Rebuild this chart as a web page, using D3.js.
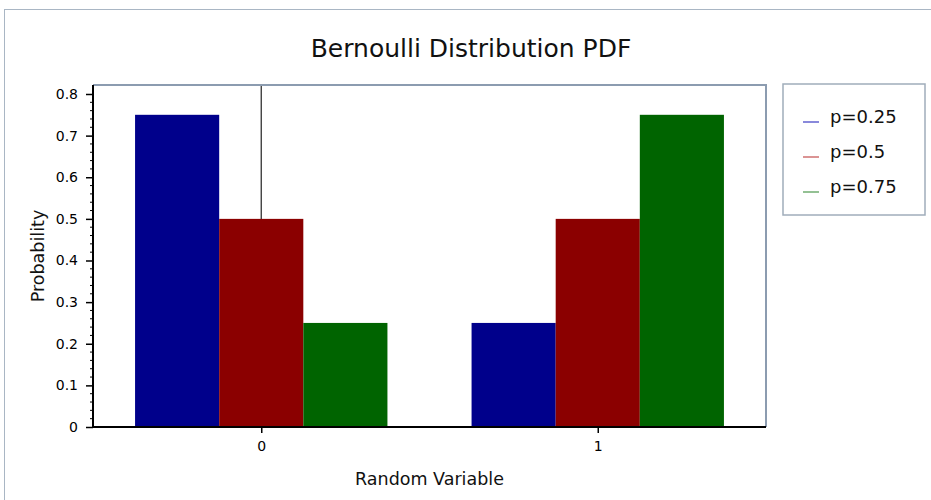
<!DOCTYPE html>
<html><head><meta charset="utf-8">
<script src="https://cdn.jsdelivr.net/npm/d3@7"></script>
<style>body{margin:0;background:#fff}svg{display:block}</style>
</head><body>
<script>
const categories = [0, 1];
const seriesNames = ["p=0.25", "p=0.5", "p=0.75"];
const seriesValues = [
  [0.75, 0.25],
  [0.5, 0.5],
  [0.25, 0.75]
];
const barColors = ["#00008b", "#8b0000", "#006400"];
const legendColors = ["#4a4ac8", "#c85a5a", "#5aa05a"];
const yTicks = [0, 0.1, 0.2, 0.3, 0.4, 0.5, 0.6, 0.7, 0.8];
const xTicks = [0, 1];

(function () {
const W = 931, H = 500;
const svg = d3.select("body").append("svg").attr("width", W).attr("height", H);
const font = "DejaVu Sans, Verdana, sans-serif";

svg.append("rect").attr("x", 4.5).attr("y", 9.5).attr("width", 940).attr("height", 520)
  .attr("fill", "#fff").attr("stroke", "#a9b6c4").attr("stroke-width", 1);

const pL = 93, pR = 766, pT = 85, pB = 427;
const x = d3.scaleLinear().domain([-0.5, 1.5]).range([pL, pR]);
const y = d3.scaleLinear().domain([0, 0.8216]).range([pB, pT]);
const barW = x(0.25) - x(0);

// zero line
svg.append("line").attr("x1", x(0)).attr("x2", x(0)).attr("y1", pT).attr("y2", pB)
  .attr("stroke", "#333").attr("stroke-width", 1.3);

// bars
seriesValues.forEach((vals, si) => {
  svg.append("g").selectAll("rect").data(categories).join("rect")
    .attr("x", c => x(c) + (si - 1.5) * barW)
    .attr("width", barW)
    .attr("y", (c, i) => y(vals[i]))
    .attr("height", (c, i) => y(0) - y(vals[i]))
    .attr("fill", barColors[si]);
});

// plot frame top/right
svg.append("path").attr("d", `M${pL},${pT}H${pR}V${pB}`)
  .attr("fill", "none").attr("stroke", "#8c9cb0").attr("stroke-width", 2);

// y axis
const yAxis = d3.axisLeft(y).tickValues(yTicks).tickFormat(d => d === 0 ? "0" : d3.format(".1f")(d))
  .tickSize(7).tickPadding(8);
const gy = svg.append("g").attr("transform", `translate(${pL},0)`).call(yAxis);
gy.attr("font-size", null).attr("font-family", null);
gy.select(".domain").attr("stroke", "#000").attr("stroke-width", 2).attr("d", `M0,${pT}V${pB}`);
gy.selectAll(".tick line").attr("stroke", "#000").attr("stroke-width", 1.5);
gy.selectAll("text").attr("font-family", font).style("font-size", "14px").attr("fill", "#000");
// minor ticks
const minor = d3.range(0, 0.81, 0.02).filter(v => Math.abs(v * 10 - Math.round(v * 10)) > 1e-6);
gy.append("g").selectAll("line").data(minor).join("line")
  .attr("x1", -3).attr("x2", 0).attr("y1", d => y(d)).attr("y2", d => y(d))
  .attr("stroke", "#000").attr("stroke-width", 1);

// x axis
const xAxis = d3.axisBottom(x).tickValues(xTicks).tickFormat(d3.format("d")).tickSize(6).tickPadding(8);
const gx = svg.append("g").attr("transform", `translate(0,${pB})`).call(xAxis);
gx.attr("font-size", null).attr("font-family", null);
gx.select(".domain").attr("stroke", "#000").attr("stroke-width", 2).attr("d", `M${pL},0H${pR}`);
gx.selectAll(".tick line").attr("stroke", "#000").attr("stroke-width", 1.5);
gx.selectAll("text").attr("font-family", font).style("font-size", "14px").attr("fill", "#000");

// title
svg.append("text").attr("x", 471).attr("y", 57).attr("text-anchor", "middle")
  .attr("font-family", font).style("font-size", "25px").attr("fill", "#111").text("Bernoulli Distribution PDF");

// axis titles
svg.append("text").attr("x", (pL + pR) / 2).attr("y", 485).attr("text-anchor", "middle")
  .attr("font-family", font).style("font-size", "17.5px").attr("fill", "#111").text("Random Variable");
svg.append("text").attr("transform", `translate(44,${(pT + pB) / 2}) rotate(-90)`)
  .attr("text-anchor", "middle").attr("font-family", font).style("font-size", "17.5px").attr("fill", "#111").text("Probability");

// legend
const lg = svg.append("g");
lg.append("rect").attr("x", 783).attr("y", 84).attr("width", 142).attr("height", 131)
  .attr("fill", "#fff").attr("stroke", "#a0adbb").attr("stroke-width", 1.5);
seriesNames.forEach((n, i) => {
  const yy = 122 + i * 35;
  lg.append("line").attr("x1", 803).attr("x2", 819).attr("y1", yy).attr("y2", yy)
    .attr("stroke", legendColors[i]).attr("stroke-width", 1.3);
  lg.append("text").attr("x", 830).attr("y", yy + 1).attr("font-family", font).style("font-size", "18px")
    .attr("fill", "#111").text(n);
});
})();
</script>
</body></html>
